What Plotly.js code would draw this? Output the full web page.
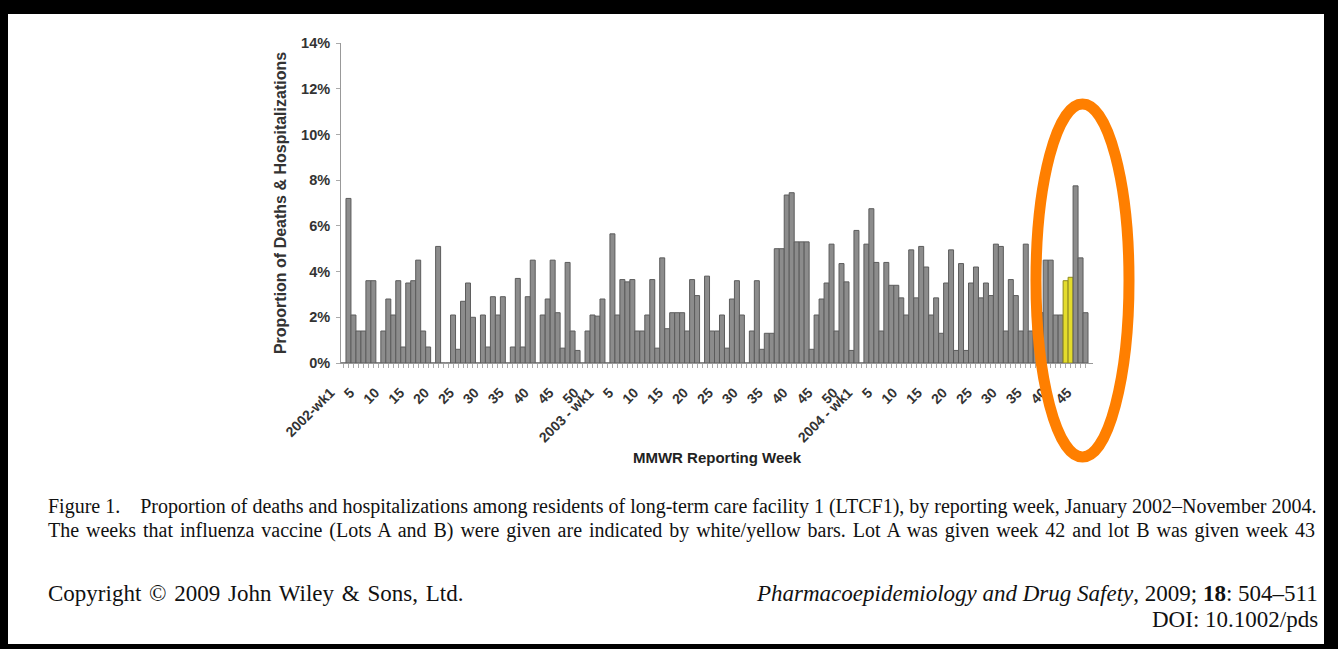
<!DOCTYPE html>
<html>
<head>
<meta charset="utf-8">
<script src="https://cdn.plot.ly/plotly-3.0.1.min.js"></script>
<style>
html,body{margin:0;padding:0;background:#000;width:1338px;height:649px;overflow:hidden;}
#chart{position:absolute;left:8px;top:14px;width:1316px;height:630px;background:#fff;}
</style>
</head>
<body>
<div id="chart"></div>
<script>
// ---- data (proportion of deaths & hospitalizations, %, by MMWR week) ----
const years = [2002, 2003, 2004];
const pct2002 = [0, 7.2, 2.1, 1.4, 1.4, 3.6, 3.6, 0, 1.4, 2.8,
                 2.1, 3.6, 0.7, 3.5, 3.6, 4.5, 1.4, 0.7, 0, 5.1,
                 0, 0, 2.1, 0.6, 2.7, 3.5, 2.0, 0, 2.1, 0.7,
                 2.9, 2.1, 2.9, 0, 0.7, 3.7, 0.7, 2.9, 4.5, 0,
                 2.1, 2.8, 4.5, 2.2, 0.65, 4.4, 1.4, 0.55, 0, 1.4,
                 2.1, 2.05];
const pct2003 = [2.8, 0, 5.65, 2.1, 3.65, 3.55, 3.65, 1.4, 1.4, 2.1,
                 3.65, 0.65, 4.6, 1.5, 2.2, 2.2, 2.2, 1.4, 3.65, 2.95,
                 0, 3.8, 1.4, 1.4, 2.1, 0.65, 2.8, 3.6, 2.1, 0,
                 1.4, 3.6, 0.6, 1.3, 1.3, 5.0, 5.0, 7.35, 7.45, 5.3,
                 5.3, 5.3, 0.6, 2.1, 2.8, 3.5, 5.2, 1.4, 4.35, 3.55,
                 0.55, 5.8];
const pct2004 = [0, 5.2, 6.75, 4.4, 1.4, 4.4, 3.4, 3.4, 2.85, 2.1,
                 4.95, 2.85, 5.1, 4.2, 2.1, 2.85, 1.3, 3.5, 4.95, 0.55,
                 4.35, 0.55, 3.5, 4.2, 2.85, 3.5, 2.95, 5.2, 5.1, 1.4,
                 3.65, 2.95, 1.4, 5.2, 1.4, 3.0, 2.2, 4.5, 4.5, 2.1,
                 2.1, 3.6, 3.75, 7.75, 4.6, 2.2];
const vaccineWeeks = ['2004 wk42', '2004 wk43'];   // Lot A, Lot B
const yearStartLabels = {2002: '2002-wk1', 2003: '2003 - wk1', 2004: '2004 - wk1'};
const yTickVals = [0, 2, 4, 6, 8, 10, 12, 14];
const yTickText = ['0%', '2%', '4%', '6%', '8%', '10%', '12%', '14%'];

// ---- build categories ----
const series = [pct2002, pct2003, pct2004];
const cats = [], vals = [], tickText = [];
years.forEach((yr, k) => {
  series[k].forEach((v, j) => {
    const wk = j + 1;
    cats.push(yr + ' wk' + wk);
    vals.push(v);
    tickText.push(wk === 1 ? yearStartLabels[yr] : (wk % 5 === 0 ? String(wk) : ''));
  });
});
const GRAY = '#8c8c8c', YEL = '#e4dc2c';
const colors = cats.map(c => vaccineWeeks.includes(c) ? YEL : GRAY);
const lineColors = cats.map(c => vaccineWeeks.includes(c) ? '#8f8a1e' : '#5c5c5c');

// page-pixel -> paper helpers (plot area: x 341..1093, y 43..363 on the page)
const PX = x => (x - 341) / 752;
const PY = y => (363 - y) / 320;

const sans = 'Liberation Sans, Arial, sans-serif';
const serif = 'Liberation Serif, Times New Roman, serif';
const capFont = {family: serif, size: 20, color: '#111'};
const footFont = {family: serif, size: 23, color: '#111'};

const trace = {
  type: 'bar', x: cats, y: vals,
  marker: {color: colors, line: {color: lineColors, width: 1}},
  hoverinfo: 'x+y'
};

const layout = {
  width: 1316, height: 630,
  margin: {l: 333, r: 231, t: 29, b: 281},
  paper_bgcolor: '#fff', plot_bgcolor: '#fff',
  bargap: 0, showlegend: false,
  font: {family: sans},
  xaxis: {
    type: 'category', range: [-0.5, cats.length + 0.5],
    tickmode: 'array', tickvals: cats, ticktext: tickText,
    tickangle: -45, ticks: 'outside', ticklen: 4, tickcolor: '#aaa', tickwidth: 1,
    ticklabelshift: -13, ticklabelstandoff: 11,
    tickfont: {family: sans, size: 14, color: '#333', weight: 'bold'},
    showline: true, linecolor: '#999', linewidth: 1, showgrid: false, zeroline: false,
    automargin: false,
    title: {text: 'MMWR Reporting Week', standoff: 8,
            font: {family: sans, size: 15, color: '#222', weight: 'bold'}}
  },
  yaxis: {
    range: [0, 14], tickmode: 'array', tickvals: yTickVals, ticktext: yTickText,
    ticks: 'outside', ticklen: 4, tickcolor: '#aaa', ticklabelstandoff: 3,
    tickfont: {family: sans, size: 14.5, color: '#333', weight: 'bold'},
    showline: true, linecolor: '#999', linewidth: 1, showgrid: false, zeroline: false,
    automargin: false,
    title: {text: 'Proportion of Deaths & Hospitalizations', standoff: 10,
            font: {family: sans, size: 16, color: '#333', weight: 'bold'}}
  },
  shapes: [{
    type: 'circle', xref: 'paper', yref: 'paper',
    x0: PX(1036), x1: PX(1129), y0: PY(457), y1: PY(104),
    line: {color: '#ff7f00', width: 11}, fillcolor: 'rgba(0,0,0,0)'
  }],
  annotations: [
    {xref: 'paper', yref: 'paper', x: PX(46), y: PY(506), xanchor: 'left', yanchor: 'middle', showarrow: false,
     font: capFont,
     text: 'Figure 1.    Proportion of deaths and hospitalizations among residents of long-term care facility 1 (LTCF1), by reporting week, January 2002–November 2004.'},
    {xref: 'paper', yref: 'paper', x: PX(46), y: PY(530), xanchor: 'left', yanchor: 'middle', showarrow: false,
     font: capFont,
     text: 'The weeks that influenza vaccine (Lots A and B) were given are indicated by white/yellow bars. Lot A was given week 42 and lot B was given week 43'},
    {xref: 'paper', yref: 'paper', x: PX(46), y: PY(593), xanchor: 'left', yanchor: 'middle', showarrow: false,
     font: footFont, text: 'Copyright © 2009 John Wiley & Sons, Ltd.'},
    {xref: 'paper', yref: 'paper', x: PX(1320), y: PY(593), xanchor: 'right', yanchor: 'middle', showarrow: false,
     font: footFont, text: '<i>Pharmacoepidemiology and Drug Safety</i>, 2009; <b>18</b>: 504–511'},
    {xref: 'paper', yref: 'paper', x: PX(1320), y: PY(619), xanchor: 'right', yanchor: 'middle', showarrow: false,
     font: footFont, text: 'DOI: 10.1002/pds'}
  ]
};

Plotly.newPlot('chart', [trace], layout, {displayModeBar: false, staticPlot: true}).then(gd => {
  // justify the caption's second line like the printed figure (wider word gaps),
  // keeping the left edge where it was
  const widen = (t, ws) => {
    const left0 = t.getBBox().x;
    t.style.wordSpacing = ws;
    const left1 = t.getBBox().x;
    t.setAttribute('x', parseFloat(t.getAttribute('x') || 0) + (left0 - left1));
  };
  gd.querySelectorAll('.annotation-text').forEach(t => {
    const s = t.textContent;
    if (s.startsWith('The weeks')) widen(t, '1.95px');
    if (s.startsWith('Copyright')) widen(t, '2px');
  });
});
</script>
</body>
</html>
